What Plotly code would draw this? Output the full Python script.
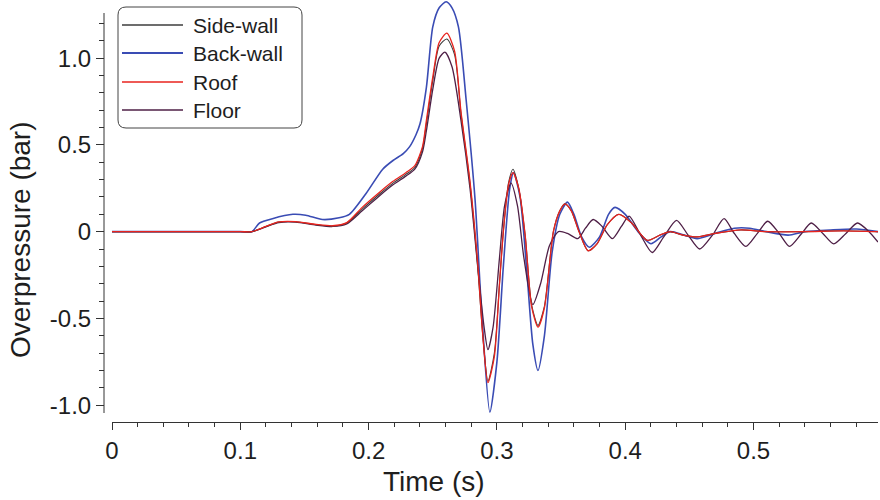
import plotly.graph_objects as go

# ---------------- data ----------------
side_t = [0, 0.05, 0.1, 0.109, 0.12, 0.13, 0.143, 0.159, 0.172, 0.183, 0.195, 0.209, 0.219, 0.229, 0.236,
          0.242, 0.245, 0.25, 0.255, 0.261, 0.267, 0.272, 0.279, 0.285, 0.289, 0.293, 0.298,
          0.302, 0.305, 0.309, 0.3125, 0.317, 0.322, 0.327, 0.332, 0.337, 0.344, 0.349, 0.353,
          0.358, 0.364, 0.371, 0.378, 0.386, 0.395, 0.405, 0.417, 0.427, 0.435, 0.445, 0.456,
          0.47, 0.49, 0.51, 0.54, 0.57, 0.597]
side_v = [0, 0, 0, 0, 0.03, 0.055, 0.057, 0.04, 0.032, 0.05, 0.13, 0.22, 0.28, 0.33, 0.37,
          0.48, 0.62, 0.87, 1.07, 1.11, 1.02, 0.68, 0.28, -0.2, -0.6, -0.86, -0.7,
          -0.3, 0.0, 0.28, 0.36, 0.25, -0.02, -0.42, -0.54, -0.43, 0.0, 0.12, 0.16,
          0.12, 0.0, -0.11, -0.07, 0.04, 0.1, 0.05, -0.05, -0.02, 0.0, -0.02, -0.03,
          -0.01, 0.01, 0.0, 0.0, 0.005, 0.0]

roof_t = side_t
roof_v = [0, 0, 0, 0, 0.03, 0.056, 0.058, 0.042, 0.034, 0.052, 0.14, 0.23, 0.29, 0.34, 0.38,
          0.49, 0.64, 0.89, 1.09, 1.144, 1.04, 0.69, 0.29, -0.18, -0.6, -0.87, -0.72,
          -0.3, 0.0, 0.27, 0.34, 0.25, -0.02, -0.43, -0.55, -0.44, 0.0, 0.12, 0.16,
          0.12, 0.0, -0.11, -0.07, 0.04, 0.1, 0.05, -0.05, -0.02, 0.0, -0.02, -0.03,
          -0.01, 0.01, 0.0, 0.0, 0.005, 0.0]

back_t = [0, 0.05, 0.1, 0.109, 0.115, 0.125, 0.141, 0.151, 0.164, 0.177, 0.185, 0.198, 0.211, 0.219, 0.227,
          0.232, 0.237, 0.24, 0.245, 0.25, 0.255, 0.2605, 0.265, 0.27, 0.276, 0.283, 0.288,
          0.2945, 0.3, 0.305, 0.31, 0.313, 0.318, 0.323, 0.328, 0.332, 0.337, 0.343, 0.349,
          0.355, 0.36, 0.366, 0.372, 0.38, 0.387, 0.392, 0.4, 0.41, 0.42, 0.428, 0.435,
          0.446, 0.456, 0.47, 0.485, 0.497, 0.51, 0.527, 0.54, 0.56, 0.58, 0.597]
back_v = [0, 0, 0, 0, 0.05, 0.075, 0.1, 0.095, 0.07, 0.08, 0.1, 0.22, 0.36, 0.41, 0.45,
          0.49, 0.56, 0.62, 0.83, 1.18, 1.29, 1.325, 1.29, 1.18, 0.76, 0.18, -0.45,
          -1.04, -0.75, -0.2, 0.25, 0.34, 0.2, -0.2, -0.65, -0.8, -0.6, -0.12, 0.1,
          0.17, 0.1, -0.03, -0.09, -0.03, 0.1, 0.14, 0.1, 0.0, -0.07, -0.03, 0.0,
          -0.02, -0.04, -0.01, 0.02, 0.02, 0.0, -0.02, 0.0, 0.01, 0.015, 0.0]

floor_t = [0, 0.05, 0.1, 0.109, 0.12, 0.13, 0.143, 0.159, 0.172, 0.183, 0.195, 0.209, 0.219, 0.229, 0.236,
           0.242, 0.245, 0.25, 0.255, 0.2595, 0.265, 0.272, 0.279, 0.285, 0.29, 0.293, 0.297,
           0.302, 0.306, 0.311, 0.316, 0.321, 0.328, 0.334, 0.341, 0.348, 0.355, 0.363, 0.369,
           0.375, 0.382, 0.39, 0.397, 0.403, 0.412, 0.421, 0.43, 0.44, 0.449, 0.458, 0.468,
           0.477, 0.485, 0.494, 0.503, 0.511, 0.52, 0.528, 0.537, 0.545, 0.554, 0.5625, 0.572,
           0.581, 0.59, 0.597]
floor_v = [0, 0, 0, 0, 0.028, 0.052, 0.055, 0.038, 0.03, 0.045, 0.12, 0.21, 0.27, 0.32, 0.36,
           0.46, 0.58, 0.82, 1.0, 1.035, 0.95, 0.64, 0.25, -0.2, -0.55, -0.68, -0.55,
           -0.15, 0.15, 0.28, 0.15, -0.15, -0.42, -0.3, -0.08, 0.0, -0.01, -0.04, 0.02,
           0.07, 0.03, -0.04, 0.03, 0.09, -0.02, -0.12, -0.03, 0.065, -0.02, -0.10, -0.02,
           0.075, -0.01, -0.085, -0.01, 0.06, -0.01, -0.085, -0.015, 0.05, -0.01, -0.07, -0.01,
           0.05, 0.0, -0.06]

names = ["Side-wall", "Back-wall", "Roof", "Floor"]
colors = ["#3c3c3c", "#3a4cb4", "#e8231e", "#4e1f46"]
widths = [1.1, 1.6, 1.3, 1.3]

x_ticks = [0, 0.1, 0.2, 0.3, 0.4, 0.5]
x_labels = ["0", "0.1", "0.2", "0.3", "0.4", "0.5"]
y_ticks = [-1.0, -0.5, 0, 0.5, 1.0]
y_labels = ["-1.0", "-0.5", "0", "0.5", "1.0"]
x_title = "Time (s)"
y_title = "Overpressure (bar)"

# ---------------- figure ----------------
W, H = 880, 500
L, R, T, B = 104, 2, 0, 78
PW, PH = W - L - R, H - T - B

def px(x):
    return (x - L) / PW

def py(y):
    return (H - B - y) / PH

series = {
    "Side-wall": (side_t, side_v),
    "Back-wall": (back_t, back_v),
    "Roof": (roof_t, roof_v),
    "Floor": (floor_t, floor_v),
}
draw_order = ["Back-wall", "Floor", "Side-wall", "Roof"]

fig = go.Figure()
for n in draw_order:
    i = names.index(n)
    t, v = series[n]
    fig.add_trace(go.Scatter(x=t, y=v, mode="lines", name=n,
                             line=dict(color=colors[i], width=widths[i], shape="spline", smoothing=0.7),
                             showlegend=False))

axis_color = "#333333"
text_color = "#1e1e1e"
font = "Liberation Sans, Arial, sans-serif"
y_lo, y_axis_top, y_hi = -1.045, 1.26, 1.335

fig.update_layout(
    width=W, height=H,
    margin=dict(l=L, r=R, t=T, b=B),
    paper_bgcolor="white", plot_bgcolor="white",
    font=dict(family=font, color=text_color),
    xaxis=dict(domain=[px(112), 1], anchor="free", position=0,
               range=[0, 0.597], tickvals=x_ticks, ticktext=x_labels,
               showline=True, linecolor=axis_color, linewidth=1,
               ticks="outside", ticklen=7, tickcolor=axis_color,
               minor=dict(dtick=0.02, ticks="outside", ticklen=4, tickcolor=axis_color),
               showgrid=False, zeroline=False,
               tickfont=dict(size=24, family=font, color=text_color)),
    yaxis=dict(domain=[py(413), 1], anchor="free", position=0,
               range=[y_lo, y_hi], tickvals=y_ticks, ticktext=y_labels,
               showline=False,
               ticks="outside", ticklen=8, tickcolor=axis_color,
               minor=dict(tickvals=[round(-1.0 + 0.1 * k, 1) for k in range(23)],
                          ticks="outside", ticklen=5, tickcolor=axis_color),
               showgrid=False, zeroline=False,
               tickfont=dict(size=24, family=font, color=text_color)),
    showlegend=False,
)

# y axis line (ends below the plot top, as in the reference)
fig.add_shape(type="line", xref="paper", yref="y", x0=0, x1=0, y0=y_lo, y1=y_axis_top,
              line=dict(color=axis_color, width=1))

# axis titles
fig.add_annotation(x=px(434), y=py(482), xref="paper", yref="paper", text=x_title,
                   showarrow=False, xanchor="center", yanchor="middle",
                   font=dict(size=28, family=font, color=text_color))
fig.add_annotation(x=px(20), y=py(240), xref="paper", yref="paper", text=y_title,
                   showarrow=False, textangle=-90, xanchor="center", yanchor="middle",
                   font=dict(size=28, family=font, color=text_color))

# custom legend with rounded box
x0, x1, y0, y1 = px(118), px(302), py(128), py(7)
rx, ry = 8 / PW, 8 / PH
path = (f"M {x0+rx},{y1} L {x1-rx},{y1} Q {x1},{y1} {x1},{y1-ry} L {x1},{y0+ry} "
        f"Q {x1},{y0} {x1-rx},{y0} L {x0+rx},{y0} Q {x0},{y0} {x0},{y0+ry} "
        f"L {x0},{y1-ry} Q {x0},{y1} {x0+rx},{y1} Z")
fig.add_shape(type="path", path=path, xref="paper", yref="paper",
              line=dict(color="#444444", width=1), fillcolor="white", layer="above")
row_y = [25, 53, 82, 110]
for i, n in enumerate(names):
    fig.add_shape(type="line", xref="paper", yref="paper",
                  x0=px(122), x1=px(183), y0=py(row_y[i]), y1=py(row_y[i]),
                  line=dict(color=colors[i], width=widths[i] + 0.4), layer="above")
    fig.add_annotation(x=px(191), y=py(row_y[i]), xref="paper", yref="paper",
                       text=n, showarrow=False, xanchor="left", yanchor="middle",
                       font=dict(size=21, family=font, color=text_color))

fig.write_html("out.html")
